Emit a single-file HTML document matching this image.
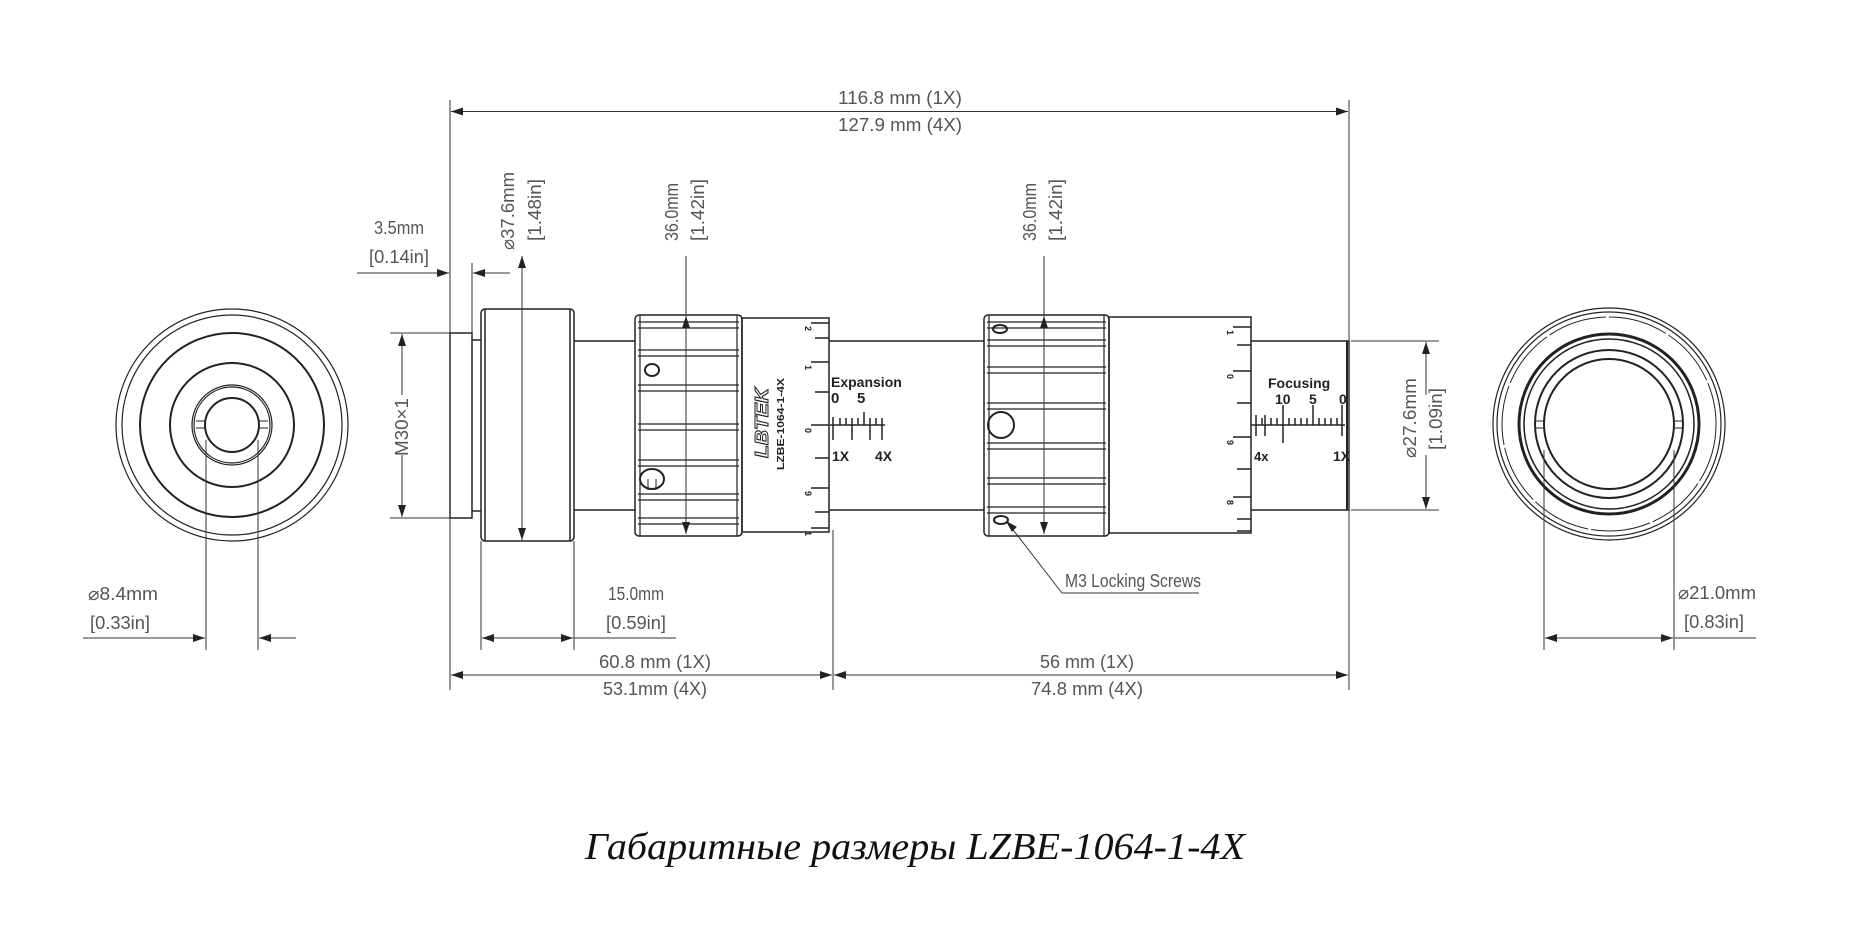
<!DOCTYPE html>
<html><head><meta charset="utf-8"><style>
html,body{margin:0;padding:0;background:#fff;}
svg{display:block;}
.d{font-family:"Liberation Sans",sans-serif;font-size:18px;fill:#555;}
.b{font-family:"Liberation Sans",sans-serif;font-weight:bold;fill:#222;}
</style></head><body>
<svg width="1871" height="935" viewBox="0 0 1871 935" xmlns="http://www.w3.org/2000/svg">
<defs>
<marker id="a" viewBox="0 0 12 8" refX="12" refY="4" markerWidth="12" markerHeight="8" markerUnits="userSpaceOnUse" orient="auto-start-reverse"><path d="M0,0 L12,4 L0,8 z" fill="#222"/></marker>
</defs>
<g fill="none" stroke="#222">
<g stroke-width="1.5">
<circle cx="232" cy="425" r="116" stroke-width="1.2"/>
<circle cx="232" cy="425" r="110" stroke-width="1.2"/>
<circle cx="232" cy="425" r="92" stroke-width="2"/>
<circle cx="232" cy="425" r="62" stroke-width="2"/>
<circle cx="232" cy="425" r="40" stroke-width="1.2"/>
<circle cx="232" cy="425" r="38" stroke-width="1.2"/>
<circle cx="232" cy="425" r="27" stroke-width="2"/>
<path d="M196,421 H205 M196,428 H205 M259,421 H268 M259,428 H268" stroke-width="1"/>
</g>
<g>
<circle cx="1609" cy="424" r="116" stroke-width="1.2"/>
<circle cx="1609" cy="424" r="112" stroke-width="1.2"/>
<circle cx="1609" cy="424" r="107" stroke-width="1" stroke-dasharray="60 3"/>
<circle cx="1609" cy="424" r="90" stroke-width="3"/>
<circle cx="1609" cy="424" r="85" stroke-width="1.5"/>
<circle cx="1609" cy="424" r="74" stroke-width="2"/>
<circle cx="1609" cy="424" r="65" stroke-width="2"/>
<path d="M1535,421 H1545 M1535,428 H1545 M1673,421 H1683 M1673,428 H1683" stroke-width="1"/>
</g>
<g stroke-width="1.5">
<rect x="450" y="333" width="22" height="185"/>
<path d="M472,340 H481 M472,511 H481"/>
<rect x="481" y="309" width="93" height="232" rx="4"/>
<path d="M485,309 V541 M570,309 V541"/>
<path d="M574,341 H635 M574,510 H635"/>
<rect x="635" y="315" width="107" height="221" rx="4"/>
<rect x="742" y="318" width="87" height="214"/>
<path d="M829,341 H984 M829,510 H984"/>
<rect x="984" y="315" width="125" height="221" rx="4"/>
<rect x="1109" y="317" width="142" height="216"/>
<path d="M1251,341 H1349 V510 H1251"/>
<path d="M1347,341 V510" stroke-width="2"/>
</g>
<g stroke-width="1.2">
<path d="M638,322 H739 M638,328 H739 M638,350 H739 M638,356 H739 M638,385 H739 M638,391 H739 M638,424 H739 M638,430 H739 M638,460 H739 M638,466 H739 M638,494 H739 M638,500 H739 M638,518 H739 M638,524 H739 M640,315 V536 M737,315 V536"/>
<path d="M987,322 H1106 M987,328 H1106 M987,340 H1106 M987,346 H1106 M987,367 H1106 M987,373 H1106 M987,403 H1106 M987,409 H1106 M987,443 H1106 M987,449 H1106 M987,478 H1106 M987,484 H1106 M987,507 H1106 M987,513 H1106 M989,315 V536 M1104,315 V536"/>
</g>
<ellipse cx="652" cy="370" rx="7" ry="6" stroke-width="2"/>
<ellipse cx="652" cy="479" rx="12" ry="10" stroke-width="2"/>
<path d="M648,479 V490 M656,479 V490" stroke-width="1"/>
<ellipse cx="1000" cy="329" rx="7" ry="4" stroke-width="2"/>
<circle cx="1001" cy="425" r="13" stroke-width="2"/>
<ellipse cx="1001" cy="520" rx="7" ry="4" stroke-width="2"/>
<g stroke-width="1.5">
<path d="M829,323 H811 M829,338 H815 M829,362 H811 M829,392 H815 M829,425 H811 M829,458 H815 M829,488 H811 M829,512 H815 M829,528 H811"/>
<path d="M830,425 H885 M833,417 V440 M840,418 V425 M846,418 V425 M852,418 V440 M858,418 V425 M864,412 V425 M870,418 V440 M876,418 V425 M882,418 V440"/>
<path d="M1251,327 H1233 M1251,345 H1237 M1251,371 H1233 M1251,403 H1237 M1251,437 H1233 M1251,469 H1237 M1251,497 H1233 M1251,519 H1237 M1251,531 H1237"/>
<path d="M1251,425 H1345 M1256,415 V436 M1265,415 V436 M1283,405 V443 M1313,405 V425 M1342,405 V436 M1262,418 V425 M1271,418 V425 M1277,418 V425 M1289,418 V425 M1295,418 V425 M1301,418 V425 M1307,418 V425 M1319,418 V425 M1325,418 V425 M1331,418 V425 M1337,418 V425"/>
</g>
<g stroke-width="1" stroke="#333">
<path d="M450,100 V690 M1349,100 V690"/>
<path d="M451,111.5 H1348" marker-start="url(#a)" marker-end="url(#a)"/>
<path d="M472,263 V340"/>
<path d="M357,273 H449" marker-end="url(#a)"/>
<path d="M510,273 H473" marker-end="url(#a)"/>
<path d="M522,256 V540" marker-start="url(#a)" marker-end="url(#a)"/>
<path d="M686,256 V534" marker-end="url(#a)"/>
<path d="M686,330 V316" marker-end="url(#a)"/>
<path d="M1044,256 V534" marker-end="url(#a)"/>
<path d="M1044,330 V316" marker-end="url(#a)"/>
<path d="M390,333 H450 M390,518 H450"/>
<path d="M402,395 V334" marker-end="url(#a)"/>
<path d="M402,455 V517" marker-end="url(#a)"/>
<path d="M206,440 V650 M258,440 V650"/>
<path d="M83,638 H205" marker-end="url(#a)"/>
<path d="M296,638 H259" marker-end="url(#a)"/>
<path d="M481,541 V650 M574,541 V650"/>
<path d="M482,638 H573" marker-start="url(#a)" marker-end="url(#a)"/>
<path d="M574,638 H676"/>
<path d="M833,530 V690"/>
<path d="M451,675 H832" marker-start="url(#a)" marker-end="url(#a)"/>
<path d="M834,675 H1348" marker-start="url(#a)" marker-end="url(#a)"/>
<path d="M1351,341 H1439 M1351,510 H1439"/>
<path d="M1426,395 V342" marker-end="url(#a)"/>
<path d="M1426,455 V509" marker-end="url(#a)"/>
<path d="M1544,450 V650 M1674,450 V650"/>
<path d="M1545,638 H1673" marker-start="url(#a)" marker-end="url(#a)"/>
<path d="M1674,638 H1756"/>
<path d="M1062,593 H1199 M1062,593 L1007,522"/>
</g>
<path d="M1007,522 L1016,527 L1012,531 z" fill="#222"/>
</g>
<g class="d">
<text x="900" y="104" text-anchor="middle" textLength="124" lengthAdjust="spacingAndGlyphs">116.8 mm (1X)</text>
<text x="900" y="131" text-anchor="middle" textLength="124" lengthAdjust="spacingAndGlyphs">127.9 mm (4X)</text>
<text x="399" y="234" text-anchor="middle" textLength="50" lengthAdjust="spacingAndGlyphs">3.5mm</text>
<text x="399" y="263" text-anchor="middle" textLength="60" lengthAdjust="spacingAndGlyphs">[0.14in]</text>
<text transform="translate(514,250) rotate(-90)" textLength="78" lengthAdjust="spacingAndGlyphs">⌀37.6mm</text>
<text transform="translate(541,241) rotate(-90)" textLength="62" lengthAdjust="spacingAndGlyphs">[1.48in]</text>
<text transform="translate(678,241) rotate(-90)" textLength="58" lengthAdjust="spacingAndGlyphs">36.0mm</text>
<text transform="translate(704,241) rotate(-90)" textLength="62" lengthAdjust="spacingAndGlyphs">[1.42in]</text>
<text transform="translate(1036,241) rotate(-90)" textLength="58" lengthAdjust="spacingAndGlyphs">36.0mm</text>
<text transform="translate(1062,241) rotate(-90)" textLength="62" lengthAdjust="spacingAndGlyphs">[1.42in]</text>
<text transform="translate(408,456) rotate(-90)" textLength="58" lengthAdjust="spacingAndGlyphs">M30×1</text>
<text transform="translate(1416,458) rotate(-90)" textLength="80" lengthAdjust="spacingAndGlyphs">⌀27.6mm</text>
<text transform="translate(1442,450) rotate(-90)" textLength="62" lengthAdjust="spacingAndGlyphs">[1.09in]</text>
<text x="88" y="600" textLength="70" lengthAdjust="spacingAndGlyphs">⌀8.4mm</text>
<text x="90" y="629" textLength="60" lengthAdjust="spacingAndGlyphs">[0.33in]</text>
<text x="636" y="600" text-anchor="middle" textLength="56" lengthAdjust="spacingAndGlyphs">15.0mm</text>
<text x="636" y="629" text-anchor="middle" textLength="60" lengthAdjust="spacingAndGlyphs">[0.59in]</text>
<text x="655" y="668" text-anchor="middle" textLength="112" lengthAdjust="spacingAndGlyphs">60.8 mm (1X)</text>
<text x="655" y="695" text-anchor="middle" textLength="104" lengthAdjust="spacingAndGlyphs">53.1mm (4X)</text>
<text x="1087" y="668" text-anchor="middle" textLength="94" lengthAdjust="spacingAndGlyphs">56 mm (1X)</text>
<text x="1087" y="695" text-anchor="middle" textLength="112" lengthAdjust="spacingAndGlyphs">74.8 mm (4X)</text>
<text x="1065" y="587" textLength="136" lengthAdjust="spacingAndGlyphs">M3 Locking Screws</text>
<text x="1678" y="599" textLength="78" lengthAdjust="spacingAndGlyphs">⌀21.0mm</text>
<text x="1684" y="628" textLength="60" lengthAdjust="spacingAndGlyphs">[0.83in]</text>
</g>
<g class="b">
<text x="831" y="387" font-size="14">Expansion</text>
<text x="831" y="403" font-size="15">0</text>
<text x="857" y="403" font-size="15">5</text>
<text x="832" y="461" font-size="14">1X</text>
<text x="875" y="461" font-size="14">4X</text>
<text x="1268" y="388" font-size="14">Focusing</text>
<text x="1275" y="404" font-size="14">10</text>
<text x="1309" y="404" font-size="14">5</text>
<text x="1339" y="404" font-size="14">0</text>
<text x="1254" y="461" font-size="13">4x</text>
<text x="1333" y="461" font-size="14">1X</text>
<text transform="translate(768,458) rotate(-90)" font-size="18" font-style="italic" fill="none" stroke="#222" stroke-width="1" textLength="70" lengthAdjust="spacingAndGlyphs">LBTEK</text>
<text transform="translate(784,470) rotate(-90)" font-size="10" textLength="92" lengthAdjust="spacingAndGlyphs">LZBE-1064-1-4X</text>
<g font-size="9">
<text transform="translate(805,326) rotate(90)">2</text>
<text transform="translate(805,365) rotate(90)">1</text>
<text transform="translate(805,428) rotate(90)">0</text>
<text transform="translate(805,491) rotate(90)">9</text>
<text transform="translate(805,531) rotate(90)">1</text>
<text transform="translate(1227,330) rotate(90)">1</text>
<text transform="translate(1227,374) rotate(90)">0</text>
<text transform="translate(1227,440) rotate(90)">9</text>
<text transform="translate(1227,500) rotate(90)">8</text>
</g>
</g>
<text x="915" y="859" text-anchor="middle" font-family="Liberation Serif, serif" font-style="italic" font-size="38" fill="#111" textLength="660" lengthAdjust="spacingAndGlyphs">Габаритные размеры LZBE-1064-1-4X</text>
</svg>
</body></html>
